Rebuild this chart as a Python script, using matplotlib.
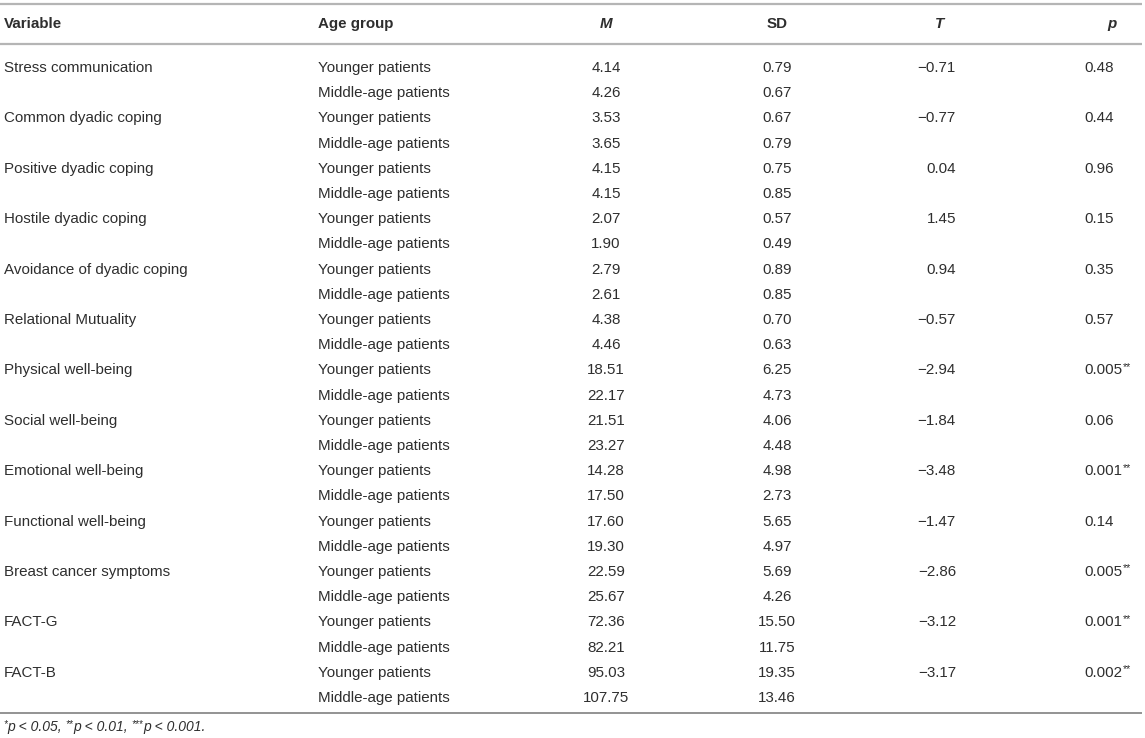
import matplotlib
matplotlib.use("Agg")
import matplotlib.pyplot as plt

# ---- data ----
variables = ["Stress communication", "Common dyadic coping", "Positive dyadic coping",
             "Hostile dyadic coping", "Avoidance of dyadic coping", "Relational Mutuality",
             "Physical well-being", "Social well-being", "Emotional well-being",
             "Functional well-being", "Breast cancer symptoms", "FACT-G", "FACT-B"]
age_groups = ["Younger patients", "Middle-age patients"]
m_young = ["4.14", "3.53", "4.15", "2.07", "2.79", "4.38", "18.51", "21.51", "14.28", "17.60", "22.59", "72.36", "95.03"]
m_middle = ["4.26", "3.65", "4.15", "1.90", "2.61", "4.46", "22.17", "23.27", "17.50", "19.30", "25.67", "82.21", "107.75"]
sd_young = ["0.79", "0.67", "0.75", "0.57", "0.89", "0.70", "6.25", "4.06", "4.98", "5.65", "5.69", "15.50", "19.35"]
sd_middle = ["0.67", "0.79", "0.85", "0.49", "0.85", "0.63", "4.73", "4.48", "2.73", "4.97", "4.26", "11.75", "13.46"]
t_values = ["\u22120.71", "\u22120.77", "0.04", "1.45", "0.94", "\u22120.57", "\u22122.94", "\u22121.84",
            "\u22123.48", "\u22121.47", "\u22122.86", "\u22123.12", "\u22123.17"]
p_values = ["0.48", "0.44", "0.96", "0.15", "0.35", "0.57", "0.005", "0.06", "0.001", "0.14", "0.005", "0.001", "0.002"]
p_stars = ["", "", "", "", "", "", "**", "", "**", "", "**", "**", "**"]
headers = ["Variable", "Age group", "M", "SD", "T", "p"]

W, H = 1145, 738
fig = plt.figure(figsize=(W / 100, H / 100), dpi=100)
ax = fig.add_axes([0, 0, 1, 1])
ax.set_xlim(0, W)
ax.set_ylim(H, 0)
ax.axis("off")

FONT = ["Liberation Sans", "DejaVu Sans"]
FS = 10.9
TXT = "#2e2e2e"
kw = dict(fontfamily=FONT, fontsize=FS, color=TXT, va="center")

# column anchors
x_var, x_age, x_m, x_sd, x_t, x_p = 4, 318, 606, 777, 956, 1084
y_head = 24
y0, dy = 68, 25.2

# rules
ax.plot([0, 1142], [4, 4], color="#b5b5b5", lw=1.6, solid_capstyle="butt")
ax.plot([0, 1142], [44, 44], color="#b5b5b5", lw=1.6, solid_capstyle="butt")
ax.plot([0, 1142], [712.5, 712.5], color="#8a8a8a", lw=1.3, solid_capstyle="butt")

# headers
ax.text(x_var, y_head, headers[0], fontweight="bold", ha="left", **kw)
ax.text(x_age, y_head, headers[1], fontweight="bold", ha="left", **kw)
ax.text(x_m, y_head, headers[2], fontweight="bold", fontstyle="italic", ha="center", **kw)
ax.text(x_sd, y_head, headers[3], fontweight="bold", ha="center", **kw)
ax.text(940, y_head, headers[4], fontweight="bold", fontstyle="italic", ha="center", **kw)
ax.text(1112, y_head, headers[5], fontweight="bold", fontstyle="italic", ha="center", **kw)

fig.canvas.draw()
renderer = fig.canvas.get_renderer()
inv = ax.transData.inverted()

def width_of(t):
    bb = t.get_window_extent(renderer=renderer)
    (x0, _), (x1, _) = inv.transform([[bb.x0, bb.y0], [bb.x1, bb.y1]])
    return x1 - x0

for i, var in enumerate(variables):
    ya = y0 + dy * (2 * i)
    yb = y0 + dy * (2 * i + 1)
    ax.text(x_var, ya, var, ha="left", **kw)
    ax.text(x_age, ya, age_groups[0], ha="left", **kw)
    ax.text(x_age, yb, age_groups[1], ha="left", **kw)
    ax.text(x_m, ya, m_young[i], ha="center", **kw)
    ax.text(x_m, yb, m_middle[i], ha="center", **kw)
    ax.text(x_sd, ya, sd_young[i], ha="center", **kw)
    ax.text(x_sd, yb, sd_middle[i], ha="center", **kw)
    ax.text(x_t, ya, t_values[i], ha="right", **kw)
    tp = ax.text(x_p, ya, p_values[i], ha="left", **kw)
    if p_stars[i]:
        w = width_of(tp)
        ax.text(x_p + w + 0.5, ya - 3.5, p_stars[i], ha="left", fontfamily=FONT,
                fontsize=FS * 0.7, color=TXT, va="center")

# footnote
pieces = [("*", True), ("p < 0.05, ", False), ("**", True), ("p < 0.01, ", False),
          ("***", True), ("p < 0.001.", False)]
xf, yf = 3, 727
for s, sup in pieces:
    if sup:
        t = ax.text(xf, yf - 3, s, ha="left", va="center", fontfamily=FONT,
                    fontsize=FS * 0.65, color=TXT, fontstyle="italic")
    else:
        t = ax.text(xf, yf, s, ha="left", va="center", fontfamily=FONT,
                    fontsize=FS * 0.92, color=TXT, fontstyle="italic")
    fig.canvas.draw()
    xf += width_of(t)

fig.savefig("out.png", dpi=100)
